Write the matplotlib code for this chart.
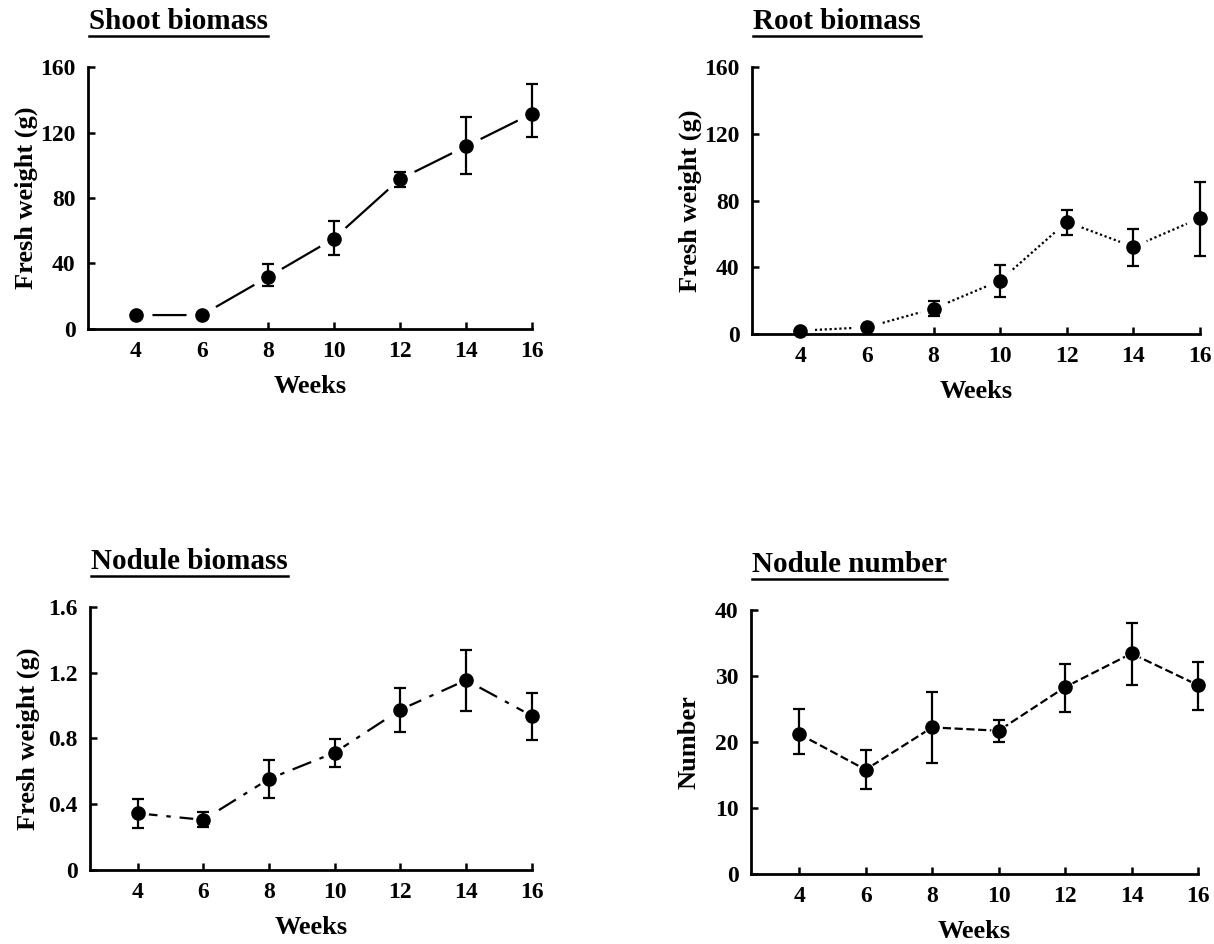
import numpy as np
import matplotlib.pyplot as plt
from matplotlib.lines import Line2D

plt.rcParams['font.family'] = ['Liberation Serif', 'DejaVu Serif']
plt.rcParams['font.weight'] = 'bold'

weeks = [4, 6, 8, 10, 12, 14, 16]

shoot = [8.5, 8.5, 31.7, 55.2, 91.5, 111.5, 131.5]
shoot_lo = [8.5, 8.5, 26.0, 45.1, 86.9, 94.6, 117.4]
shoot_hi = [8.5, 8.5, 39.6, 66.2, 95.8, 129.5, 149.4]

root = [2.0, 4.0, 15.2, 32.0, 67.2, 52.2, 69.5]
root_lo = [2.0, 4.0, 10.8, 22.3, 59.3, 41.0, 46.7]
root_hi = [2.0, 4.0, 19.7, 41.6, 74.3, 63.0, 91.0]

nod_mass = [0.345, 0.305, 0.554, 0.714, 0.975, 1.155, 0.938]
nod_mass_lo = [0.258, 0.264, 0.436, 0.627, 0.840, 0.968, 0.793]
nod_mass_hi = [0.430, 0.353, 0.667, 0.797, 1.110, 1.339, 1.079]

nod_num = [21.2, 15.8, 22.2, 21.7, 28.3, 33.4, 28.6]
nod_num_lo = [18.2, 12.8, 16.8, 20.0, 24.5, 28.7, 24.9]
nod_num_hi = [25.0, 18.8, 27.5, 23.3, 31.8, 38.0, 32.1]

W, H = 1214, 944
fig = plt.figure(figsize=(W / 100, H / 100), dpi=100)

panels = [
    ('Shoot biomass', [0.0725, 0.6515, 0.3655, 0.2775], shoot, shoot_lo, shoot_hi,
     '-', 160, [0, 40, 80, 120, 160], ['0', '40', '80', '120', '160'], 'Fresh weight (g)', 22),
    ('Root biomass', [0.6194, 0.6462, 0.3691, 0.2828], root, root_lo, root_hi,
     (0, (1, 1.2)), 160, [0, 40, 80, 120, 160], ['0', '40', '80', '120', '160'], 'Fresh weight (g)', 20),
    ('Nodule biomass', [0.0741, 0.0784, 0.3639, 0.2786], nod_mass, nod_mass_lo, nod_mass_hi,
     (0, (9, 4, 2, 4)), 1.6, [0, 0.4, 0.8, 1.2, 1.6], ['0', '0.4', '0.8', '1.2', '1.6'], 'Fresh weight (g)', 14),
    ('Nodule number', [0.6186, 0.0742, 0.3682, 0.2797], nod_num, nod_num_lo, nod_num_hi,
     '--', 40, [0, 10, 20, 30, 40], ['0', '10', '20', '30', '40'], 'Number', 11),
]

titles = []
for title, pos, y, lo, hi, ls, ymax, yt, ytl, ylab, gap in panels:
    ax = fig.add_axes(pos)
    y = np.array(y)
    err = [y - np.array(lo), np.array(hi) - y]
    ax.plot(weeks, y, color='black', linestyle=ls, linewidth=1.6, zorder=1, clip_on=False)
    ax.plot(weeks, y, linestyle='none', marker='o', markerfacecolor='white',
            markeredgecolor='white', markersize=gap, zorder=2, clip_on=False)
    ax.errorbar(weeks, y, yerr=err, fmt='none', ecolor='black', elinewidth=1.6,
                capsize=4, capthick=1.6, zorder=3, clip_on=False)
    ax.plot(weeks, y, 'o', color='black', markersize=9.5, zorder=4, clip_on=False)
    ax.set_xlim(2.55, 16)
    ax.set_ylim(0, ymax)
    ax.set_xticks(weeks)
    ax.set_xticklabels([str(w) for w in weeks])
    ax.set_yticks(yt)
    ax.set_yticklabels(ytl)
    for s in ['top', 'right']:
        ax.spines[s].set_visible(False)
    for s in ['left', 'bottom']:
        ax.spines[s].set_linewidth(2)
    ax.tick_params(direction='in', length=5, width=1.8, labelsize=17, pad=9)
    ax.set_xlabel('Weeks', fontsize=19, fontweight='bold', labelpad=9)
    ax.set_ylabel(ylab, fontsize=19, fontweight='bold')
    ax.yaxis.set_label_coords(-50 / (pos[2] * W), 0.5)
    t = fig.text(pos[0] + 0.001, pos[1] + pos[3] + 0.040, title, fontsize=21,
                 fontweight='bold', ha='left', va='baseline')
    titles.append(t)

fig.canvas.draw()
r = fig.canvas.get_renderer()
for t in titles:
    bb = t.get_window_extent(r).transformed(fig.transFigure.inverted())
    x0, y0 = t.get_position()
    yl = y0 - 7 / H
    fig.add_artist(Line2D([bb.x0, bb.x1], [yl, yl], color='black', linewidth=1.8,
                          transform=fig.transFigure))

fig.savefig('out.png', dpi=100)
